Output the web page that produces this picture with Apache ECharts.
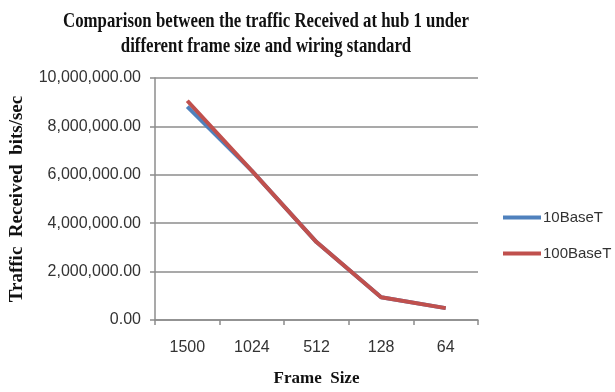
<!DOCTYPE html>
<html>
<head>
<meta charset="utf-8">
<script src="https://cdn.jsdelivr.net/npm/echarts@6/dist/echarts.min.js"></script>
<style>
  html, body { margin: 0; padding: 0; background: #fff; }
  #chart { width: 615px; height: 392px; }
</style>
</head>
<body>
<div id="chart"></div>
<script>
// Frame sizes (bytes) on the category axis
const frameSizes = ['1500', '1024', '512', '128', '64'];

// Traffic received at hub 1, bits/sec
const traffic10BaseT = [8820000, 6160000, 3220000, 940000, 490000];
const traffic100BaseT = [9060000, 6160000, 3220000, 940000, 490000];

const seriesNames = ['10BaseT', '100BaseT'];
const seriesColors = ['#4f81bd', '#c0504d'];

// y ticks: 0 .. 10,000,000 every 2,000,000
const yMin = 0, yMax = 10000000, yStep = 2000000;

const titleText = 'Comparison between the traffic Received at hub 1 under\ndifferent frame size and wiring standard';

function formatValue(v) {
  const parts = v.toFixed(2).split('.');
  parts[0] = parts[0].replace(/\B(?=(\d{3})+(?!\d))/g, ',');
  return parts.join('.');
}

const serifBold = { fontFamily: 'Liberation Serif', fontWeight: 'bold', color: '#111' };
const sansLabel = { fontFamily: 'Liberation Sans', fontSize: 16, color: '#333' };

const chart = echarts.init(document.getElementById('chart'), null, { renderer: 'canvas' });

chart.setOption({
  animation: false,
  backgroundColor: '#fff',
  // condensed bold serif heading, two centred lines
  graphic: [{
    type: 'text',
    x: 266,
    y: 9,
    scaleX: 0.8,
    style: {
      text: titleText,
      font: 'bold 21px "Liberation Serif"',
      fill: '#111',
      textAlign: 'center',
      align: 'center',
      textVerticalAlign: 'top',
      verticalAlign: 'top',
      lineHeight: 25
    }
  }],
  legend: {
    orient: 'vertical',
    left: 503,
    top: 210,
    padding: 0,
    itemWidth: 38,
    itemHeight: 4,
    itemGap: 21,
    icon: 'rect',
    textStyle: { fontFamily: 'Liberation Sans', fontSize: 15, color: '#333', padding: [0, 0, 0, -3] },
    data: seriesNames
  },
  grid: { left: 151, right: 137, top: 78, bottom: 68, containLabel: false },
  xAxis: {
    type: 'category',
    data: frameSizes,
    boundaryGap: true,
    name: 'Frame  Size',
    nameLocation: 'middle',
    nameGap: 50,
    nameTextStyle: Object.assign({}, serifBold, { fontSize: 17 }),
    axisLine: { lineStyle: { color: '#8c8c8c', width: 1.5 } },
    axisTick: { show: true, length: 5, alignWithLabel: false, lineStyle: { color: '#8c8c8c', width: 1.5 } },
    axisLabel: Object.assign({ margin: 20 }, sansLabel)
  },
  yAxis: {
    type: 'value',
    min: yMin,
    max: yMax,
    interval: yStep,
    name: 'Traffic  Received  bits/sec',
    nameLocation: 'middle',
    nameGap: 128,
    nameTextStyle: Object.assign({}, serifBold, { fontSize: 19 }),
    axisLine: { show: true, lineStyle: { color: '#8c8c8c', width: 1.5 } },
    axisTick: { show: true, length: 5, lineStyle: { color: '#8c8c8c', width: 1.5 } },
    splitLine: { lineStyle: { color: '#8c8c8c', width: 1.5 } },
    axisLabel: Object.assign({ margin: 14, formatter: formatValue }, sansLabel)
  },
  series: [
    {
      name: seriesNames[0],
      type: 'line',
      data: traffic10BaseT,
      symbol: 'none',
      color: seriesColors[0],
      lineStyle: { width: 4, color: seriesColors[0] }
    },
    {
      name: seriesNames[1],
      type: 'line',
      data: traffic100BaseT,
      symbol: 'none',
      color: seriesColors[1],
      lineStyle: { width: 4, color: seriesColors[1] }
    }
  ]
});
</script>
</body>
</html>
